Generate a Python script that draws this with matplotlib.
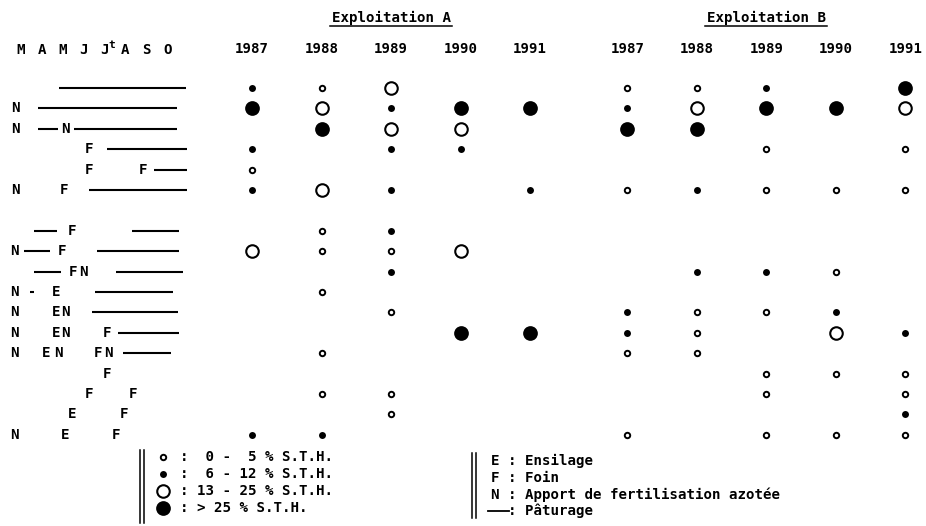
import matplotlib
matplotlib.use('Agg')
import matplotlib.pyplot as plt

# ---- data ---------------------------------------------------------------
farms = ['Exploitation A', 'Exploitation B']
years = [1987, 1988, 1989, 1990, 1991]
month_letters = ['M', 'A', 'M', 'J', 'J', 'A', 'S', 'O']   # March .. October

# share class per management row and year
# 0: absent, 1: 0-5 %, 2: 6-12 %, 3: 13-25 %, 4: > 25 % S.T.H.
share_A = [
    [2, 1, 3, 0, 0],
    [4, 3, 2, 4, 4],
    [0, 4, 3, 3, 0],
    [2, 0, 2, 2, 0],
    [1, 0, 0, 0, 0],
    [2, 3, 2, 0, 2],
    [0, 1, 2, 0, 0],
    [3, 1, 1, 3, 0],
    [0, 0, 2, 0, 0],
    [0, 1, 0, 0, 0],
    [0, 0, 1, 0, 0],
    [0, 0, 0, 4, 4],
    [0, 1, 0, 0, 0],
    [0, 0, 0, 0, 0],
    [0, 1, 1, 0, 0],
    [0, 0, 1, 0, 0],
    [2, 2, 0, 0, 0],
]
share_B = [
    [1, 1, 2, 0, 4],
    [2, 3, 4, 4, 3],
    [4, 4, 0, 0, 0],
    [0, 0, 1, 0, 1],
    [0, 0, 0, 0, 0],
    [1, 2, 1, 1, 1],
    [0, 0, 0, 0, 0],
    [0, 0, 0, 0, 0],
    [0, 2, 2, 1, 0],
    [0, 0, 0, 0, 0],
    [2, 1, 1, 2, 0],
    [2, 1, 0, 3, 2],
    [1, 1, 0, 0, 0],
    [0, 0, 1, 1, 1],
    [0, 0, 1, 0, 1],
    [0, 0, 0, 0, 2],
    [1, 0, 1, 1, 1],
]

# calendar of each row, in months (3 = March ... 10 = October)
# ('-', start, end) = grazing, letter = event
calendar = [
    [('-', 4.8, 10.9)],
    [('N', 2.71), ('-', 3.81, 10.46)],
    [('N', 2.71), ('-', 3.81, 4.77), ('N', 5.1), ('-', 5.54, 10.46)],
    [('F', 6.25), ('-', 7.11, 10.94)],
    [('F', 6.25), ('F', 8.84), ('-', 9.36, 10.94)],
    [('N', 2.71), ('F', 5.06), ('-', 6.25, 10.94)],
    [('-', 3.62, 4.72), ('F', 5.44), ('-', 8.31, 10.56)],
    [('N', 2.67), ('-', 3.14, 4.39), ('F', 4.96), ('-', 6.64, 10.56)],
    [('-', 3.62, 4.91), ('F', 5.49), ('N', 5.97), ('-', 7.55, 10.75)],
    [('N', 2.67), ('-', 3.43, 3.62), ('E', 4.67), ('-', 6.54, 10.27)],
    [('N', 2.67), ('E', 4.67), ('N', 5.1), ('-', 6.4, 10.51)],
    [('N', 2.67), ('E', 4.67), ('N', 5.1), ('F', 7.11), ('-', 7.64, 10.56)],
    [('N', 2.67), ('E', 4.2), ('N', 4.77), ('F', 6.68), ('N', 7.16), ('-', 7.88, 10.18)],
    [('F', 7.11)],
    [('F', 6.25), ('F', 8.36)],
    [('E', 5.44), ('F', 7.93)],
    [('N', 2.67), ('E', 5.1), ('F', 7.55)],
]

share_labels = [':  0 -  5 % S.T.H.', ':  6 - 12 % S.T.H.',
                ': 13 - 25 % S.T.H.', ': > 25 % S.T.H.']
code_labels = ['E : Ensilage', 'F : Foin',
               'N : Apport de fertilisation azotée', ': Pâturage']

# ---- styles --------------------------------------------------------------
FONT = 'DejaVu Sans Mono'
FS = 10.2
FW = 'bold'
styles = {
    1: dict(marker='o', ms=3.9, mfc='white', mec='black', mew=1.4),
    2: dict(marker='o', ms=5.0, mfc='black', mec='black', mew=0),
    3: dict(marker='o', ms=9.0, mfc='white', mec='black', mew=1.5),
    4: dict(marker='o', ms=10.6, mfc='black', mec='black', mew=0),
}

W, H = 926, 526
fig = plt.figure(figsize=(W / 100, H / 100), dpi=100)

# rows: slot index with a blank slot after the 6th row
def row_slot(i):
    return i + (1 if i >= 6 else 0)

ROW0, ROWSTEP = 88, 20.4
ylim = ((H - ROW0) / ROWSTEP, -ROW0 / ROWSTEP)

# dot grid axes: x = column slot, farm B shifted after a gap
COL0, COLSTEP, FARMGAP = 252, 69.5, 0.4
ax = fig.add_axes([0, 0, 1, 1])
ax.set_xlim(-COL0 / COLSTEP, (W - COL0) / COLSTEP)
ax.set_ylim(*ylim)
ax.axis('off')

for f, data in enumerate([share_A, share_B]):
    off = f * (len(years) + FARMGAP)
    for j, yr in enumerate(years):
        ax.text(off + j, -1.9, str(yr), ha='center', va='center',
                family=FONT, fontsize=FS, fontweight=FW)
    for i, row in enumerate(data):
        for j, c in enumerate(row):
            if c:
                ax.plot(off + j, row_slot(i), ls='none', **styles[c])
    # farm header with underline
    cx = off + (len(years) - 1) / 2
    ax.text(cx, -3.45, farms[f], ha='center', va='center',
            family=FONT, fontsize=FS, fontweight=FW)
    half = 0.88
    ax.plot([cx - half, cx + half], [-3.05, -3.05], color='black', lw=1.1)

# calendar axes: x in months
M0, MSTEP = 21, 20.9
tax = fig.add_axes([0, 0, 1, 1])
tax.patch.set_alpha(0)
tax.set_xlim(3 - M0 / MSTEP, 3 + (W - M0) / MSTEP)
tax.set_ylim(*ylim)
tax.axis('off')

for k, letter in enumerate(month_letters):
    tax.text(3 + k, -1.85, letter, ha='center', va='center',
             family=FONT, fontsize=FS, fontweight=FW)
tax.text(3 + 4 + 0.33, -2.1, 't', ha='center', va='center',
         family=FONT, fontsize=8, fontweight=FW)

for i, events in enumerate(calendar):
    y = row_slot(i)
    for ev in events:
        if ev[0] == '-':
            tax.plot([ev[1], ev[2]], [y, y], color='black', lw=1.5,
                     solid_capstyle='butt')
        else:
            tax.text(ev[1], y, ev[0], ha='center', va='center',
                     family=FONT, fontsize=FS, fontweight=FW)

# legends in pixel coordinates
pax = fig.add_axes([0, 0, 1, 1])
pax.patch.set_alpha(0)
pax.set_xlim(0, W)
pax.set_ylim(H, 0)
pax.axis('off')

for x in (140, 143.5):
    pax.plot([x, x], [450, 523], color='black', lw=1.1)
for k, (c, lab) in enumerate(zip([1, 2, 3, 4], share_labels)):
    y = 457 + k * 17
    pax.plot(163, y, ls='none', **styles[c])
    pax.text(180.5, y, lab, ha='left', va='center', family=FONT,
             fontsize=FS, fontweight=FW)

for x in (472, 475.5):
    pax.plot([x, x], [453, 518], color='black', lw=1.1)
for k, lab in enumerate(code_labels):
    y = 461 + k * 16.7
    if k == 3:
        pax.plot([488, 509], [y, y], color='black', lw=1.3)
        pax.text(508, y, lab, ha='left', va='center', family=FONT,
                 fontsize=FS, fontweight=FW)
    else:
        pax.text(491, y, lab, ha='left', va='center', family=FONT,
                 fontsize=FS, fontweight=FW)

fig.savefig('out.png', dpi=100, facecolor='white')
